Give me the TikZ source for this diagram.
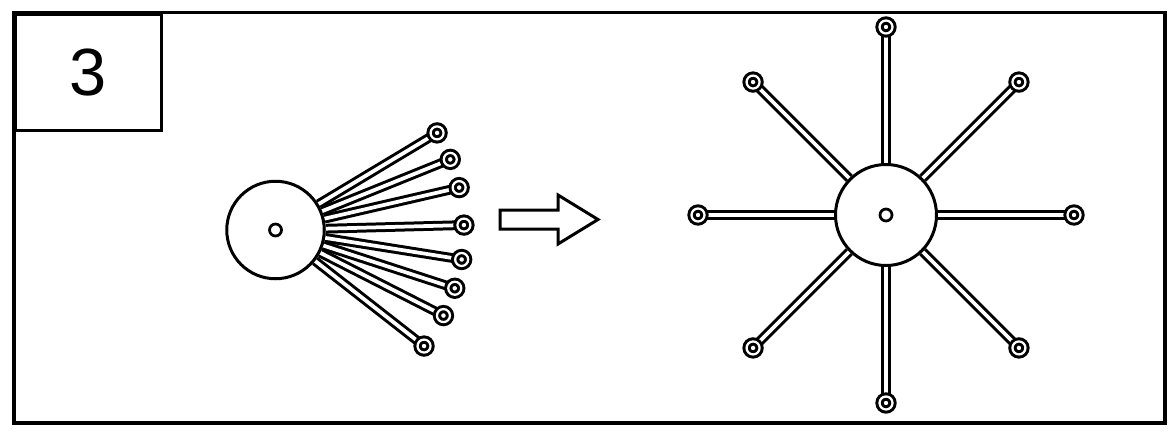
\documentclass[tikz,border=0pt]{standalone}
\usepackage{fontspec}
\setmainfont{Liberation Sans}
\usepackage{tikz}
\usetikzlibrary{calc,backgrounds,positioning}

\begin{document}
\begin{tikzpicture}[
  hub/.style={circle, draw, fill=white, line width=0.06cm, inner sep=0pt},
  hole/.style={circle, draw, line width=0.055cm, minimum size=0.24cm, inner sep=0pt},
  ring/.style={circle, draw, double, line width=0.06cm, double distance=0.045cm, minimum size=0.26cm, inner sep=0pt, outer sep=0pt},
  spoke/.style={draw, line width=0.06cm, double, double distance=0.075cm},
  tagbox/.style={rectangle, draw, line width=0.065cm, minimum width=2.91cm, minimum height=2.32cm, font=\fontsize{38}{40}\selectfont}
]
  \useasboundingbox (0,0) rectangle (23.46,8.62);

  % Frame and step number
  \draw[line width=0.065cm] (0.28,0.16) rectangle (23.30,8.37);
  \node[tagbox, anchor=north west] (tag) at (0.28,8.37) {3};

  % Hubs
  \node[hub, minimum size=1.95cm] (hubL) at (5.51,4.02) {};
  \node[hole] (holeL) at (hubL.center) {};
  \node[hub, minimum size=2.02cm] (hubR) at (17.72,4.32) {};
  \node[hole] (holeR) at (hubR.center) {};

  % Pins: bundled on the left, spread on the right
  \foreach \a [count=\i] in {31,22,13,1.5,-9,-18,-27,-38}
    \node[ring] (pl\i) at ($(hubL)+(\a:3.77)$) {};
  \foreach \a [count=\i] in {90,45,0,-45,-90,-135,180,135}
    \node[ring] (pr\i) at ($(hubR)+(\a:3.76)$) {};

  \begin{scope}[on background layer]
    \foreach \i in {1,...,8} {
      \draw[spoke] (hubL) -- (pl\i);
      \draw[spoke] (hubR) -- (pr\i);
    }
  \end{scope}

  % Block arrow
  \draw[line width=0.06cm] (10.00,4.42) -- (11.16,4.42) -- (11.16,4.72) -- (11.96,4.23)
    -- (11.16,3.74) -- (11.16,4.04) -- (10.00,4.04) -- cycle;
\end{tikzpicture}
\end{document}
